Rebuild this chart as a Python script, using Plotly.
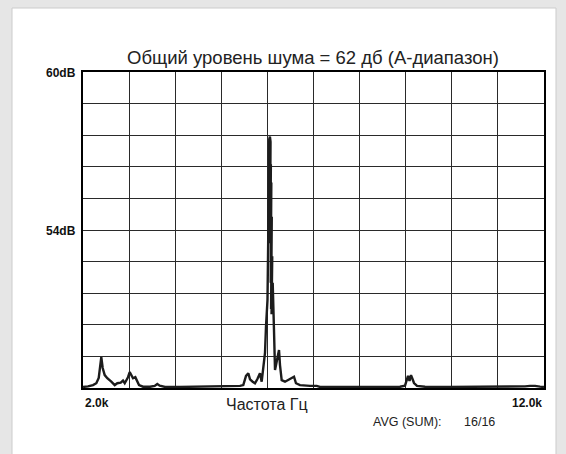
import plotly.graph_objects as go

# Frequency (kHz) and level (dB)
freq_khz = [2.000, 2.108, 2.217, 2.289, 2.341, 2.369, 2.397, 2.427, 2.471, 2.527,
            2.579, 2.614, 2.688, 2.744, 2.818, 2.868, 2.905, 2.976, 3.013, 3.048,
            3.085, 3.135, 3.178, 3.215, 3.302, 3.453, 3.555, 3.612, 3.664, 3.779,
            4.104, 4.538, 4.972, 5.297, 5.406, 5.477, 5.536, 5.586, 5.623, 5.681,
            5.731, 5.781, 5.839, 5.876, 5.911, 5.948, 5.970, 6.002, 6.020, 6.030,
            6.040, 6.055, 6.068, 6.060, 6.075, 6.065, 6.085, 6.072, 6.095, 6.080,
            6.105, 6.090, 6.115, 6.122, 6.143, 6.165, 6.208, 6.252, 6.273, 6.310,
            6.382, 6.447, 6.527, 6.577, 6.620, 6.707, 6.924, 7.069, 7.141, 7.792,
            8.443, 8.876, 8.985, 9.022, 9.050, 9.083, 9.115, 9.148, 9.180, 9.245,
            9.419, 9.961, 10.612, 11.262, 11.588, 11.696, 11.805, 11.913, 12.000]
level_db = [48.04, 48.06, 48.11, 48.18, 48.38, 48.81, 49.17, 48.76, 48.49, 48.37,
            48.30, 48.24, 48.11, 48.18, 48.20, 48.28, 48.18, 48.41, 48.60, 48.49,
            48.37, 48.41, 48.24, 48.11, 48.05, 48.05, 48.08, 48.15, 48.09, 48.04,
            48.04, 48.05, 48.05, 48.06, 48.08, 48.11, 48.46, 48.56, 48.33, 48.24,
            48.18, 48.33, 48.56, 48.24, 48.68, 49.33, 50.35, 51.34, 54.00, 56.80,
            57.45, 57.55, 57.35, 55.00, 56.50, 53.50, 55.80, 52.00, 54.50, 51.00,
            53.00, 50.80, 52.00, 51.20, 50.20, 48.68, 49.06, 49.44, 48.87, 48.30,
            48.24, 48.30, 48.37, 48.43, 48.18, 48.11, 48.08, 48.08, 48.04, 48.04,
            48.05, 48.05, 48.09, 48.30, 48.46, 48.27, 48.49, 48.34, 48.19, 48.08,
            48.05, 48.04, 48.04, 48.04, 48.06, 48.08, 48.08, 48.05, 48.04]

title_text = "Общий уровень шума = 62 дб (А-диапазон)"
x_label = "Частота Гц"
y_tick_labels = {60: "60dB", 54: "54dB"}
x_tick_labels = {2: "2.0k", 12: "12.0k"}
avg_label = "AVG (SUM):"
avg_value = "16/16"

FONT = "Liberation Sans, Arial, Helvetica, sans-serif"

fig = go.Figure()
fig.add_trace(go.Scatter(
    x=freq_khz, y=level_db, mode="lines",
    line=dict(color="#1c1c1c", width=2.4),
    hoverinfo="skip", showlegend=False,
))

annotations = [
    dict(text=title_text, xref="paper", yref="paper", x=0.499, y=1.0,
         yshift=15, xanchor="center", yanchor="middle", showarrow=False,
         font=dict(family=FONT, size=18.5, color="#222222")),
    dict(text=x_label, xref="x", yref="paper", x=6.0, y=0, yshift=-16,
         xanchor="center", yanchor="middle", showarrow=False,
         font=dict(family=FONT, size=16, color="#222222")),
    dict(text=avg_label, xref="x", yref="paper", x=8.25, y=0, yshift=-34,
         xanchor="left", yanchor="middle", showarrow=False,
         font=dict(family=FONT, size=12.5, color="#222222")),
    dict(text=avg_value, xref="x", yref="paper", x=10.22, y=0, yshift=-34,
         xanchor="left", yanchor="middle", showarrow=False,
         font=dict(family=FONT, size=12.5, color="#222222")),
]
for val, lab in y_tick_labels.items():
    annotations.append(dict(text="<b>" + lab + "</b>", xref="paper", yref="y",
                            x=0, y=val, xshift=-5, yshift=-1, xanchor="right",
                            yanchor="middle", showarrow=False,
                            font=dict(family=FONT, size=12, color="#111111")))
for val, lab in x_tick_labels.items():
    annotations.append(dict(text="<b>" + lab + "</b>", xref="x", yref="paper",
                            x=val, y=0, yshift=-15,
                            xanchor="left" if val == 2 else "right",
                            yanchor="middle", showarrow=False,
                            font=dict(family=FONT, size=12, color="#111111")))

fig.update_layout(
    width=566, height=454,
    margin=dict(l=83, r=22, t=72, b=66),
    paper_bgcolor="#e6e6e6",
    plot_bgcolor="white",
    annotations=annotations,
    shapes=[dict(type="rect", xref="paper", yref="paper", layer="below",
                 x0=-0.154, x1=1.026, y0=-0.3, y1=1.2025,
                 fillcolor="white", line=dict(color="#cccccc", width=1))],
    xaxis=dict(range=[2, 12], tick0=2, dtick=1, showticklabels=False,
               ticks="", showgrid=True, gridcolor="#2a2a2a", gridwidth=1,
               zeroline=False, showline=True, mirror=True,
               linecolor="#000000", linewidth=2, fixedrange=True),
    yaxis=dict(range=[48, 60], tick0=48, dtick=1.2, showticklabels=False,
               ticks="", showgrid=True, gridcolor="#2a2a2a", gridwidth=1,
               zeroline=False, showline=True, mirror=True,
               linecolor="#000000", linewidth=2, fixedrange=True),
)

post = ("document.body.style.margin='0';document.body.style.padding='0';"
        "document.body.style.overflow='hidden';"
        "document.body.style.background='#e6e6e6';")
fig.write_html("out.html", post_script=post, config={"displayModeBar": False})
